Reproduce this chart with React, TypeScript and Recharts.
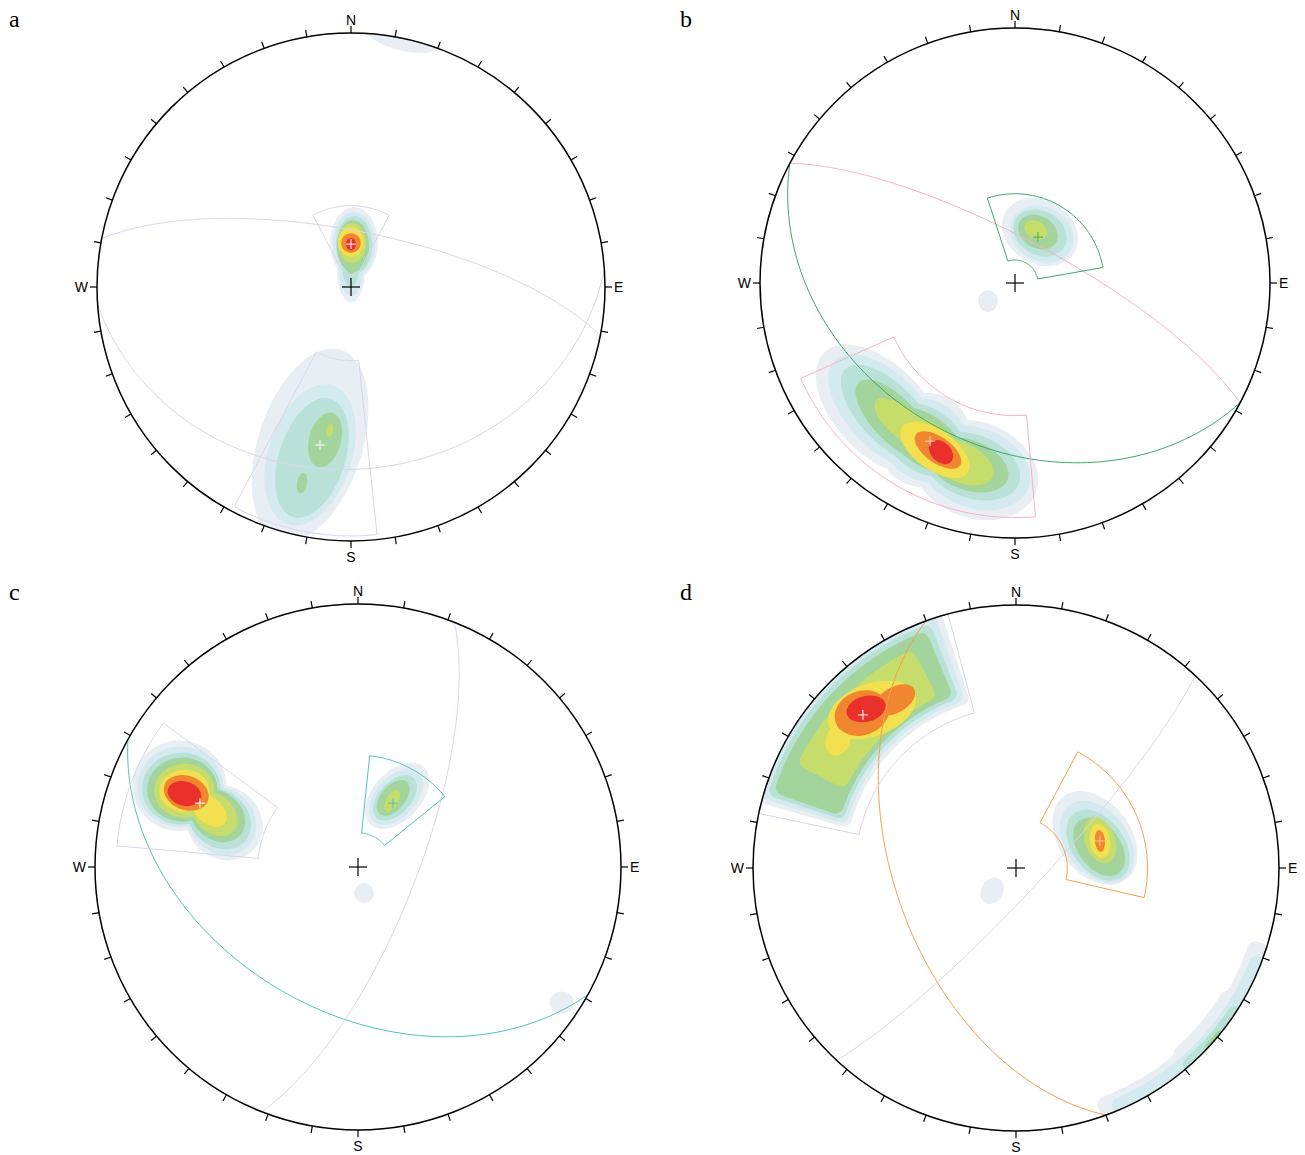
import React from 'react';
import { ComposedChart, Scatter, XAxis, YAxis } from 'recharts';

// density level fills (low -> high)
const LEVEL_COLORS = ['#e8eef3', '#d3eaee', '#b9e1d8', '#a3d49c', '#c6dc6b', '#f3e04f', '#f0862f', '#e9302b'];
const LAV = '#d9d6ea';
const PINK = '#f4b4c4';
const GREEN = '#3ea86c';
const TEAL = '#4fc5ba';
const ORANGE = '#f4a04a';

// contour pieces: [level, x(E, % of radius), y(N, %), semi-axis a, semi-axis b, rotation deg]
const contoursA = [
  [1, 1.2, 17.3, 9.4, 14.2, 0], [1, 0, 5.9, 5.5, 11.8, 0],
  [2, 1.2, 16.9, 8.3, 12.6, 0], [2, 0, 6.7, 4.7, 10.2, 0],
  [3, 1.2, 16.5, 7.1, 11.4, 0], [3, 0, 8.3, 3.5, 7.9, 0],
  [4, 0.8, 16.1, 6.3, 10.2, 0], [4, 0, 10.6, 2.4, 5.5, 0],
  [5, 0.4, 17.3, 5.5, 7.9, 0],
  [6, 0, 17.7, 5.1, 5.9, 0],
  [7, 0, 17.3, 3.9, 3.9, 45],
  [8, 0, 16.9, 2, 2.4, 0],
  [1, -16.1, -62.2, 39.4, 20.5, 72],
  [2, -16.1, -66.1, 28.7, 16.5, 72],
  [3, -15.4, -67.3, 24.4, 13, 72],
  [4, -10.2, -60.2, 11, 6.3, 75], [4, -19.3, -77.2, 4, 2, 80],
  [5, -8.3, -56.3, 2.6, 1.3, 80],
  [1, 21.3, 98.8, 15.7, 5.9, -12],
];
const contoursB = [
  [1, 9.8, 20, 15.7, 12.5, -30],
  [2, 10.6, 19.2, 12.9, 10.6, -30],
  [3, 9.8, 19.6, 11, 8.6, -30],
  [4, 9, 20, 8.2, 6.3, -30],
  [5, 8.2, 20.8, 4.7, 3.5, -30],
  [1, -10.6, -7.1, 3.9, 4.3, 0],
  [1, -52.9, -49.8, 31.4, 17.6, -46], [1, -35.3, -61.6, 17.6, 18.8, -35], [1, -15.7, -73.3, 25.5, 18.8, -20],
  [2, -51, -50.6, 28.2, 14.5, -46], [2, -35.3, -61.6, 17.6, 15.7, -35], [2, -15.7, -72.5, 22.4, 15.7, -20],
  [3, -49, -51.8, 25.1, 11.4, -46], [3, -35.3, -61.6, 17.6, 12.5, -35], [3, -16.9, -71.8, 19.6, 12.5, -20],
  [4, -47.1, -53.7, 20.4, 8.6, -46], [4, -35.3, -61.6, 17.6, 9.8, -35], [4, -18.4, -71.4, 16.5, 9.8, -20],
  [5, -43.1, -55.7, 14.9, 5.9, -40], [5, -33, -62.5, 14, 7.1, -35], [5, -21.6, -70.2, 14.1, 7.8, -25],
  [6, -31.4, -65.5, 15.7, 7.8, -35],
  [7, -30.2, -65.5, 10.6, 5.1, -35],
  [8, -29, -66.3, 5.5, 3.9, -45],
];
const contoursC = [
  [1, -67.9, 30.9, 17.9, 17.2, 0], [1, -50.8, 16.8, 15.2, 13.7, -40],
  [2, -67.6, 30.5, 16.4, 15.3, 0], [2, -51.9, 17.6, 14.1, 12.2, -40],
  [3, -67.2, 29.8, 14.9, 13.7, 0], [3, -52.7, 18.3, 12.9, 10.6, -40],
  [4, -66.8, 29.4, 13.4, 12.2, 0], [4, -53.4, 19.5, 11.4, 9.1, -40],
  [5, -66, 29, 11.5, 10.3, 0], [5, -54.6, 20.2, 9.9, 7.2, -40],
  [6, -66, 29, 9.5, 8, 0], [6, -56.5, 21.4, 7.6, 4.9, -40],
  [7, -65.3, 28.2, 8.8, 6.5, -20],
  [8, -66, 27.9, 6.5, 4.6, -15],
  [1, 14.9, 27.1, 14.9, 9.2, 47],
  [2, 14.5, 26.7, 12.6, 7.6, 47],
  [3, 14.1, 26.3, 10.3, 6.1, 47],
  [4, 13.4, 26.3, 8, 4.6, 50],
  [5, 13, 25.2, 4.6, 2.3, 60],
  [1, 2.3, -9.9, 3.8, 3.8, 0],
  [1, 77.5, -51.5, 4.6, 4.2, 0],
];
const contoursD = [
  [6, -54.8, 60.1, 17.5, 10, 20], [6, -67.7, 48.7, 6.1, 4.6, 70],
  [7, -58.6, 58.9, 10.6, 8.4, 20], [7, -46, 63.9, 8.4, 4.9, 30],
  [8, -57, 60.5, 7.6, 4.9, 15],
  [1, 30, 11.4, 19.8, 13.7, -53],
  [2, 30.8, 9.9, 17.5, 11.8, -53],
  [3, 31.2, 8.7, 15.2, 9.9, -53],
  [4, 31.6, 8, 12.5, 8, -53],
  [5, 31.9, 10.6, 9.1, 5.7, -70],
  [6, 31.9, 10.3, 6.5, 3.8, -80],
  [7, 31.9, 10.3, 4.2, 1.9, -85],
  [1, -9.1, -8.7, 5.3, 4.2, 60],
];
// band-shaped contours along the rim: [level, azimuth from, azimuth to, inner radius %, outer radius %]
const bandsD = [
  [1, 284, 344, 65, 104], [1, 107, 161, 93, 104], [1, 120, 140, 91.5, 104],
  [2, 285, 342.5, 66.5, 104], [2, 110, 158, 95.5, 104],
  [3, 286, 341, 68, 98.5], [3, 122, 140, 97, 104],
  [4, 287, 339.5, 69.5, 96.5], [4, 128, 134, 98.5, 104],
  [5, 295, 335, 71.5, 92],
];

// planes: [dip direction, dip]
const planesA = [[11, 72], [176, 29]];
const planesB = [[28, 76], [208, 36]];
const planesC = [[209, 44], [111.5, 72]];
const planesD = [[250, 52], [133, 82]];
// cones: [azimuth from, azimuth to, inner radius %, outer radius %]
const conesA = [[332, 28, 4, 32], [174, 208, 29, 98]];
const conesB = [[342, 80, 9, 35], [175, 246, 52, 92]];
const conesC = [[6, 51, 13, 42.5], [275, 306.5, 38, 92]];
const conesD = [[28, 103, 19.5, 50], [282, 345, 61, 100]];
// maxima markers [x, y]
const maximaA = [[0, 16.9], [-12.2, -62.2]];
const maximaB = [[9, 18], [-33.3, -62]];
const maximaC = [[-60.1, 24.3], [13.3, 24.3]];
const maximaD = [[-58.2, 58.2], [31.9, 10.3]];

const compassLabels = ['N', 'E', 'S', 'W'];
const panelLetters = ['a', 'b', 'c', 'd'];

const D2R = Math.PI / 180;

function polar(az: number, r: number) {
  return { x: r * Math.sin(az * D2R), y: r * Math.cos(az * D2R) };
}

function greatCirclePoints(dipDir: number, dip: number) {
  const pts: { x: number; y: number }[] = [];
  const s = (dipDir - 90) * D2R;
  const dd = dipDir * D2R;
  const dp = dip * D2R;
  for (let t = 0; t <= 180; t += 2) {
    const tt = t * D2R;
    const ex = Math.sin(s) * Math.cos(tt) + Math.sin(dd) * Math.cos(dp) * Math.sin(tt);
    const ny = Math.cos(s) * Math.cos(tt) + Math.cos(dd) * Math.cos(dp) * Math.sin(tt);
    const dz = Math.sin(dp) * Math.sin(tt);
    const plunge = Math.asin(Math.max(-1, Math.min(1, dz)));
    const trend = Math.atan2(ex, ny);
    const r = Math.SQRT2 * Math.sin((Math.PI / 2 - plunge) / 2) * 100;
    pts.push({ x: r * Math.sin(trend), y: r * Math.cos(trend) });
  }
  return pts;
}

function sectorPoints(az1: number, az2: number, r1: number, r2: number) {
  let a2 = az2;
  if (a2 < az1) a2 += 360;
  const n = 40;
  const pts: { x: number; y: number }[] = [];
  for (let i = 0; i <= n; i++) pts.push(polar(az1 + ((a2 - az1) * i) / n, r2));
  for (let i = n; i >= 0; i--) pts.push(polar(az1 + ((a2 - az1) * i) / n, r1));
  pts.push(polar(az1, r2));
  return pts;
}

const Empty = () => <g />;

type PanelProps = {
  id: string;
  cx: number;
  cy: number;
  R: number;
  contours: number[][];
  bands?: number[][];
  planes: number[][];
  planeColors: string[];
  cones: number[][];
  coneColors: string[];
  maxima: number[][];
  maximaColors: string[];
};

function Stereonet(p: PanelProps) {
  const m = 32;
  const S = 2 * p.R + 2 * m;
  const k = p.R / 100;
  const R = p.R;
  const clipId = 'clip-' + p.id;

  const contourData = p.contours
    .map(([level, x, y, a, b, ang]) => ({ x, y, level, a, b, ang }))
    .sort((u, v) => u.level - v.level);
  const bandData = (p.bands || [])
    .map(([level, a1, a2, r1, r2]) => ({ x: 0, y: 0, level, a1, a2, r1, r2 }))
    .sort((u, v) => u.level - v.level);
  const maximaData = p.maxima.map(([x, y], i) => ({ x, y, i }));

  const clipShape = (s: any) => (
    <defs>
      <clipPath id={clipId}>
        <circle cx={s.cx} cy={s.cy} r={R} />
      </clipPath>
    </defs>
  );
  const contourShape = (s: any) => {
    const d = s.payload;
    return (
      <g clipPath={`url(#${clipId})`}>
        <ellipse
          cx={s.cx}
          cy={s.cy}
          rx={d.a * k}
          ry={d.b * k}
          transform={`rotate(${-d.ang} ${s.cx} ${s.cy})`}
          fill={LEVEL_COLORS[d.level - 1]}
        />
      </g>
    );
  };
  const bandShape = (s: any) => {
    const d = s.payload;
    const rho = Math.max(1, Math.min(8, ((d.r2 - d.r1) * k) / 2 - 0.5));
    const rhoU = rho / k;
    const ri = d.r1 + rhoU;
    const ro = d.r2 - rhoU;
    const rm = (ri + ro) / 2;
    const dA = (rhoU / rm) / D2R;
    let a2 = d.a2;
    if (a2 < d.a1) a2 += 360;
    const b1 = d.a1 + dA;
    const b2 = a2 - dA;
    const n = 36;
    const pts: string[] = [];
    const px = (az: number, r: number) =>
      `${(s.cx + r * k * Math.sin(az * D2R)).toFixed(2)},${(s.cy - r * k * Math.cos(az * D2R)).toFixed(2)}`;
    for (let i = 0; i <= n; i++) pts.push(px(b1 + ((b2 - b1) * i) / n, ro));
    for (let i = n; i >= 0; i--) pts.push(px(b1 + ((b2 - b1) * i) / n, ri));
    const col = LEVEL_COLORS[d.level - 1];
    return (
      <g clipPath={`url(#${clipId})`}>
        <path d={'M' + pts.join('L') + 'Z'} fill={col} stroke={col} strokeWidth={2 * rho} strokeLinejoin="round" />
      </g>
    );
  };
  const frameShape = (s: any) => {
    const { cx, cy } = s;
    const ticks = [];
    for (let az = 0; az < 360; az += 10) {
      const sx = Math.sin(az * D2R);
      const sy = -Math.cos(az * D2R);
      ticks.push(
        <line key={az} x1={cx + sx * R} y1={cy + sy * R} x2={cx + sx * (R + 7)} y2={cy + sy * (R + 7)} stroke="#000" strokeWidth={1.2} />
      );
    }
    const font = { fontFamily: 'Liberation Sans, DejaVu Sans, sans-serif', fontSize: 14, fill: '#000' };
    return (
      <g>
        <circle cx={cx} cy={cy} r={R} fill="none" stroke="#000" strokeWidth={1.5} />
        {ticks}
        <line x1={cx - 9} y1={cy} x2={cx + 9} y2={cy} stroke="#000" strokeWidth={1.2} />
        <line x1={cx} y1={cy - 9} x2={cx} y2={cy + 9} stroke="#000" strokeWidth={1.2} />
        <text x={cx} y={cy - R - 8} textAnchor="middle" {...font}>{compassLabels[0]}</text>
        <text x={cx + R + 9} y={cy + 5} textAnchor="start" {...font}>{compassLabels[1]}</text>
        <text x={cx} y={cy + R + 21} textAnchor="middle" {...font}>{compassLabels[2]}</text>
        <text x={cx - R - 9} y={cy + 5} textAnchor="end" {...font}>{compassLabels[3]}</text>
      </g>
    );
  };
  const crossShape = (s: any) => {
    const c = p.maximaColors[s.payload.i];
    return (
      <g>
        <line x1={s.cx - 5} y1={s.cy} x2={s.cx + 5} y2={s.cy} stroke={c} strokeWidth={1} />
        <line x1={s.cx} y1={s.cy - 5} x2={s.cx} y2={s.cy + 5} stroke={c} strokeWidth={1} />
      </g>
    );
  };

  return (
    <div style={{ position: 'absolute', left: p.cx - R - m, top: p.cy - R - m }}>
      <ComposedChart width={S} height={S} margin={{ top: m, right: m, bottom: m, left: m }}>
        <XAxis type="number" dataKey="x" domain={[-100, 100]} hide />
        <YAxis type="number" dataKey="y" domain={[-100, 100]} hide />
        <Scatter data={[{ x: 0, y: 0 }]} shape={clipShape} isAnimationActive={false} />
        {bandData.length > 0 && <Scatter data={bandData} shape={bandShape} isAnimationActive={false} />}
        <Scatter data={contourData} shape={contourShape} isAnimationActive={false} />
        {p.planes.map(([dd, dip], i) => (
          <Scatter
            key={'pl' + i}
            data={greatCirclePoints(dd, dip)}
            line={{ stroke: p.planeColors[i], strokeWidth: 1, fill: 'none' }}
            lineType="joint"
            shape={Empty}
            isAnimationActive={false}
          />
        ))}
        {p.cones.map(([a1, a2, r1, r2], i) => (
          <Scatter
            key={'cn' + i}
            data={sectorPoints(a1, a2, r1, r2)}
            line={{ stroke: p.coneColors[i], strokeWidth: 1, fill: 'none' }}
            lineType="joint"
            shape={Empty}
            isAnimationActive={false}
          />
        ))}
        <Scatter data={[{ x: 0, y: 0 }]} shape={frameShape} isAnimationActive={false} />
        <Scatter data={maximaData} shape={crossShape} isAnimationActive={false} />
      </ComposedChart>
    </div>
  );
}

export default function App() {
  const letterPos = [[9, 27], [680, 27], [9, 600], [680, 600]];
  return (
    <div style={{ position: 'absolute', left: 0, top: 0, width: 1305, height: 1155, background: '#fff', overflow: 'hidden' }}>
      <Stereonet id="a" cx={351} cy={287} R={254} contours={contoursA} planes={planesA} planeColors={[LAV, LAV]}
        cones={conesA} coneColors={[LAV, LAV]} maxima={maximaA} maximaColors={['#ffffff', '#ffffff']} />
      <Stereonet id="b" cx={1015} cy={283} R={255} contours={contoursB} planes={planesB} planeColors={[PINK, GREEN]}
        cones={conesB} coneColors={[GREEN, PINK]} maxima={maximaB} maximaColors={[GREEN, '#f6c9d3']} />
      <Stereonet id="c" cx={358} cy={867} R={263} contours={contoursC} planes={planesC} planeColors={[TEAL, LAV]}
        cones={conesC} coneColors={[TEAL, LAV]} maxima={maximaC} maximaColors={['#ffffff', TEAL]} />
      <Stereonet id="d" cx={1016} cy={868} R={263} contours={contoursD} bands={bandsD} planes={planesD} planeColors={[ORANGE, LAV]}
        cones={conesD} coneColors={[ORANGE, LAV]} maxima={maximaD} maximaColors={['#ffffff', '#f9c48e']} />
      <svg width={1305} height={1155} style={{ position: 'absolute', left: 0, top: 0, pointerEvents: 'none' }}>
        {panelLetters.map((t, i) => (
          <text key={t} x={letterPos[i][0]} y={letterPos[i][1]} fontFamily="Liberation Serif, DejaVu Serif, serif" fontSize={24} fill="#000">
            {t}
          </text>
        ))}
      </svg>
    </div>
  );
}
